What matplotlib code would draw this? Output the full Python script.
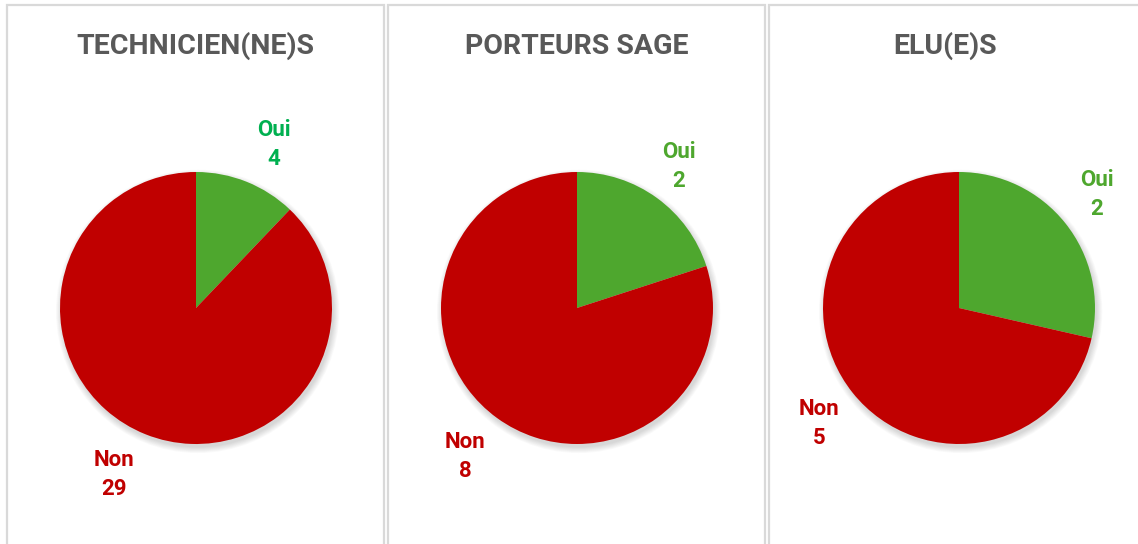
import matplotlib.pyplot as plt
from matplotlib.patches import Rectangle, Circle

plt.rcParams['font.family'] = ['Roboto', 'DejaVu Sans']

groups = ["TECHNICIEN(NE)S", "PORTEURS SAGE", "ELU(E)S"]
answers = ["Oui", "Non"]
oui_counts = [4, 2, 2]
non_counts = [29, 8, 5]

GREEN = "#4EA72E"
RED = "#C00000"
oui_label_colors = ["#00B050", GREEN, GREEN]

# panel layout in pixels (x from left, y from top)
W, H = 1138, 544
panel_boxes = [(7, 5, 377), (388, 5, 377), (769, 5, 377)]
pie_centers = [(196, 308), (577, 308), (959, 308)]
title_x = [195, 577, 945]
R = 136
oui_pos = [(0.574, 1.205), (0.75, 1.043), (1.015, 0.837)]
non_pos = [(-0.603, -1.222), (-0.824, -1.090), (-1.029, -0.847)]

fig = plt.figure(figsize=(W / 100, H / 100), dpi=100)
fig.patch.set_facecolor("white")

for (px, py, pw) in panel_boxes:
    fig.patches.append(Rectangle((px / W, -0.05), pw / W, 1 - py / H + 0.05,
                                 transform=fig.transFigure, facecolor="white",
                                 edgecolor="#D9D9D9", linewidth=1.6, zorder=-1))

for i, name in enumerate(groups):
    cx, cy = pie_centers[i]
    ax = fig.add_axes([(cx - R) / W, (H - cy - R) / H, 2 * R / W, 2 * R / H])
    ax.set_zorder(1)
    ax.patch.set_visible(False)
    ax.axis("off")

    # soft shadow under the pie
    for k in range(8):
        ax.add_patch(Circle((0.012, -0.025), 1.0 + 0.006 * k, facecolor="black",
                            edgecolor="none", alpha=0.018, zorder=0, clip_on=False))

    ax.pie([oui_counts[i], non_counts[i]], colors=[GREEN, RED], startangle=90,
           counterclock=False, radius=1, wedgeprops=dict(linewidth=0))
    ax.set_xlim(-1, 1)
    ax.set_ylim(-1, 1)
    ax.set_aspect("equal")

    ax.text(*oui_pos[i], f"{answers[0]}\n{oui_counts[i]}", color=oui_label_colors[i],
            fontsize=16, fontweight="bold", ha="center", va="center",
            linespacing=1.42, clip_on=False)
    ax.text(*non_pos[i], f"{answers[1]}\n{non_counts[i]}", color=RED,
            fontsize=16, fontweight="bold", ha="center", va="center",
            linespacing=1.42, clip_on=False)

    fig.text(title_x[i] / W, 1 - 46 / H, name, color="#595959", fontsize=20.5,
             fontweight="bold", ha="center", va="center")

fig.savefig("out.png", dpi=100, facecolor="white")
